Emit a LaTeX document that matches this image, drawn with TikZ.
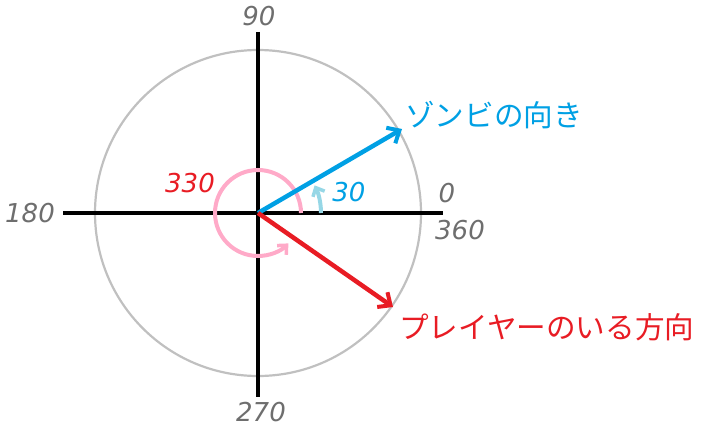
\documentclass[tikz,border=0pt]{standalone}
\usepackage{fontspec}
\setmainfont{DejaVu Sans}
\newfontfamily\jpfont{Noto Sans CJK JP}
\usetikzlibrary{arrows.meta}
\definecolor{zblue}{RGB}{0,160,228}
\definecolor{pred}{RGB}{232,28,36}
\definecolor{cgray}{RGB}{192,192,192}
\definecolor{ngray}{RGB}{110,110,110}
\definecolor{pink}{RGB}{255,170,200}
\definecolor{lblue}{RGB}{150,215,230}
\tikzset{
  axis/.style={line width=3.5pt, black},
  numlbl/.style={font=\fontsize{26}{28}\selectfont\itshape, text=ngray, inner sep=0pt},
  jplbl/.style={font=\jpfont\fontsize{29.6}{32}\selectfont, inner sep=0pt, anchor=west},
  bigarrow/.style={line width=4.5pt, -{Straight Barb[length=10pt,width=18pt,line width=4pt]}},
  smallarc/.style={line width=4pt, -{Straight Barb[length=7pt,width=13pt,line width=3.5pt]}}
}
\begin{document}
\begin{tikzpicture}[x=1pt,y=-1pt]
\useasboundingbox (0,0) rectangle (712,428);
\coordinate (O) at (258,213);
\coordinate (L) at (63,213);
\coordinate (R) at (443,213);
\coordinate (T) at (258,32);
\coordinate (B) at (258,397);
\coordinate (Zt) at (402,129);
\coordinate (Pt) at (393,307);
\draw[cgray, line width=2.2pt] (O) circle[radius=163];
\draw[axis] (L) -- (R);
\draw[axis] (T) -- (B);
% pink 330 arc
\draw[pink, smallarc] (301,213) arc[start angle=0, end angle=-315, radius=43];
% light blue 30 arc
\draw[lblue, smallarc] (321,213) arc[start angle=0, end angle=-26, radius=63];
\draw[zblue, bigarrow] (O) -- (Zt);
\draw[pred, bigarrow] (O) -- (Pt);
\node[numlbl] (n90) at (259,16) {90};
\node[numlbl] (n270) at (261,412) {270};
\node[numlbl] (n180) at (30,213) {180};
\node[numlbl] (n0) at (447,193) {0};
\node[numlbl] (n360) at (460,230) {360};
\node[numlbl, text=pred] (n330) at (190,183) {330};
\node[numlbl, text=zblue] (n30) at (349,192) {30};
\node[jplbl, text=zblue] (zl) at (405,115) {ゾンビの向き};
\node[jplbl, text=pred] (pl) at (399,327) {プレイヤーのいる方向};
\end{tikzpicture}
\end{document}
